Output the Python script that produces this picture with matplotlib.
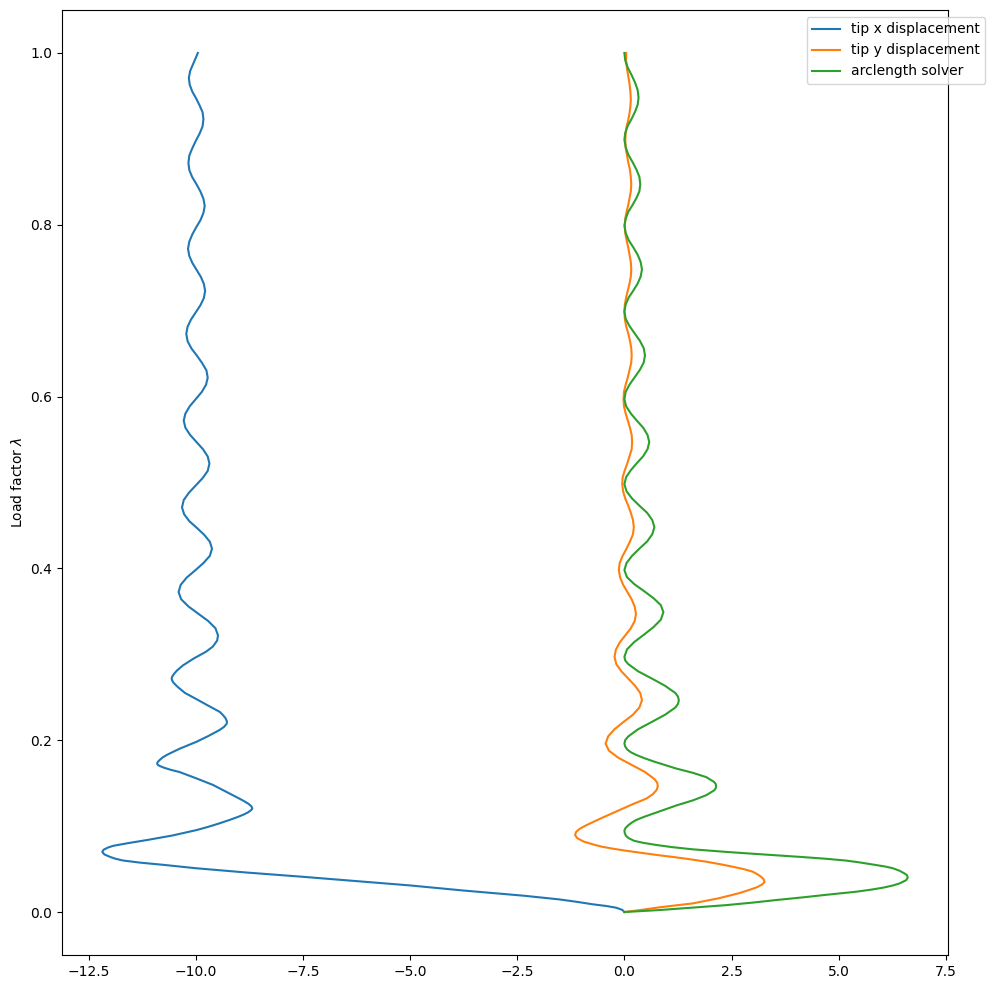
import matplotlib
matplotlib.use("Agg")
import matplotlib.pyplot as plt

# points: (load factor, displacement)
tip_x_pts = [
    (0.000, 0.00), (0.0025, -0.05), (0.005, -0.19), (0.007, -0.42), (0.009, -0.74),
    (0.0118, -1.10), (0.0147, -1.52), (0.019, -2.35), (0.025, -3.75), (0.031, -5.01),
    (0.036, -6.25), (0.041, -7.50), (0.046, -8.82), (0.051, -10.00), (0.055, -10.77),
    (0.0575, -11.30), (0.060, -11.70), (0.062, -11.87), (0.064, -11.99), (0.067, -12.13),
    (0.070, -12.18), (0.0725, -12.15), (0.075, -12.05), (0.077, -11.93), (0.080, -11.60),
    (0.0837, -11.15), (0.089, -10.55), (0.0953, -9.99), (0.099, -9.72), (0.103, -9.46),
    (0.107, -9.22), (0.111, -9.00), (0.1135, -8.88), (0.116, -8.78), (0.1185, -8.71),
    (0.1205, -8.68), (0.123, -8.70), (0.126, -8.77), (0.129, -8.87), (0.132, -8.98),
    (0.140, -9.29), (0.148, -9.60), (0.1555, -9.98), (0.163, -10.38), (0.1655, -10.58),
    (0.168, -10.74), (0.170, -10.84), (0.1715, -10.89), (0.173, -10.90), (0.175, -10.88),
    (0.177, -10.84), (0.180, -10.77), (0.183, -10.67), (0.190, -10.38), (0.198, -9.99),
    (0.205, -9.70), (0.212, -9.44), (0.2155, -9.34), (0.219, -9.28), (0.221, -9.27),
    (0.223, -9.28), (0.226, -9.31), (0.229, -9.36), (0.233, -9.44), (0.240, -9.70),
    (0.248, -9.99), (0.255, -10.25), (0.262, -10.42), (0.267, -10.52), (0.270, -10.555),
    (0.272, -10.56), (0.274, -10.55), (0.277, -10.51), (0.281, -10.44), (0.287, -10.30),
    (0.295, -10.05), (0.303, -9.76), (0.309, -9.60), (0.316, -9.50), (0.322, -9.48),
    (0.3304, -9.54), (0.3388, -9.71), (0.3473, -9.94), (0.3557, -10.17), (0.3641, -10.34),
    (0.3725, -10.40), (0.3809, -10.35), (0.3893, -10.21), (0.3978, -10.01), (0.4062, -9.82),
    (0.4146, -9.67), (0.423, -9.62), (0.431, -9.67), (0.439, -9.80), (0.447, -9.97),
    (0.455, -10.15), (0.463, -10.27), (0.471, -10.32), (0.4795, -10.28), (0.488, -10.16),
    (0.4965, -10.00), (0.505, -9.84), (0.5135, -9.72), (0.522, -9.68), (0.5303, -9.72),
    (0.5387, -9.83), (0.547, -9.98), (0.5553, -10.13), (0.5637, -10.24), (0.572, -10.28),
    (0.5803, -10.24), (0.5887, -10.14), (0.597, -10.00), (0.6053, -9.86), (0.6137, -9.76),
    (0.622, -9.72), (0.6305, -9.75), (0.639, -9.85), (0.6475, -9.97), (0.656, -10.10),
    (0.6645, -10.19), (0.673, -10.22), (0.6813, -10.19), (0.6897, -10.11), (0.698, -10.00),
    (0.7063, -9.89), (0.7147, -9.81), (0.723, -9.78), (0.7312, -9.81), (0.7393, -9.88),
    (0.7475, -9.98), (0.7557, -10.08), (0.7638, -10.15), (0.772, -10.18), (0.7803, -10.15),
    (0.7887, -10.08), (0.797, -9.99), (0.8053, -9.89), (0.8137, -9.82), (0.822, -9.79),
    (0.8303, -9.82), (0.8387, -9.89), (0.847, -9.98), (0.8553, -10.08), (0.8637, -10.15),
    (0.872, -10.17), (0.8805, -10.15), (0.889, -10.08), (0.8975, -10.00), (0.906, -9.91),
    (0.9145, -9.84), (0.923, -9.82), (0.931, -9.84), (0.939, -9.91), (0.947, -9.99),
    (0.955, -10.08), (0.963, -10.14), (0.971, -10.16), (0.979, -10.13), (0.986, -10.07),
    (0.993, -10.01), (1.000, -9.95),
]

tip_y_pts = [
    (0.000, 0.00), (0.0025, 0.40), (0.0055, 0.82), (0.010, 1.59), (0.016, 2.20),
    (0.022, 2.68), (0.026, 2.93), (0.029, 3.10), (0.032, 3.21), (0.035, 3.27),
    (0.038, 3.25), (0.041, 3.19), (0.044, 3.10), (0.047, 2.99), (0.050, 2.78),
    (0.0527, 2.53), (0.0555, 2.25), (0.0585, 1.92), (0.0615, 1.52), (0.064, 1.15),
    (0.066, 0.82), (0.068, 0.52), (0.070, 0.23), (0.072, -0.05), (0.074, -0.30),
    (0.076, -0.52), (0.078, -0.68), (0.082, -0.95), (0.086, -1.10), (0.0895, -1.15),
    (0.093, -1.13), (0.097, -1.04), (0.101, -0.89), (0.109, -0.55), (0.117, -0.19),
    (0.125, 0.17), (0.132, 0.51), (0.137, 0.66), (0.142, 0.75), (0.1465, 0.78),
    (0.1505, 0.765), (0.1548, 0.70), (0.163, 0.48), (0.1713, 0.17), (0.1795, -0.14),
    (0.1878, -0.36), (0.196, -0.44), (0.2044, -0.38), (0.2128, -0.23), (0.2213, -0.02),
    (0.2297, 0.20), (0.2381, 0.35), (0.2465, 0.41), (0.2549, 0.37), (0.2633, 0.25),
    (0.2718, 0.09), (0.2802, -0.07), (0.2886, -0.19), (0.297, -0.23), (0.3053, -0.20),
    (0.3137, -0.11), (0.322, 0.02), (0.3303, 0.15), (0.3387, 0.24), (0.347, 0.27),
    (0.3555, 0.24), (0.364, 0.17), (0.3725, 0.07), (0.381, -0.03), (0.3895, -0.10),
    (0.398, -0.13), (0.4063, -0.11), (0.4147, -0.04), (0.423, 0.05), (0.4313, 0.13),
    (0.4397, 0.20), (0.448, 0.22), (0.4563, 0.20), (0.4647, 0.15), (0.473, 0.09),
    (0.4813, 0.02), (0.4897, -0.03), (0.498, -0.05), (0.5062, -0.04), (0.5143, 0.01),
    (0.5225, 0.07), (0.5307, 0.12), (0.5388, 0.17), (0.547, 0.18), (0.5553, 0.17),
    (0.5637, 0.13), (0.572, 0.08), (0.5803, 0.03), (0.5887, -0.01), (0.597, -0.02),
    (0.6055, -0.01), (0.614, 0.03), (0.6225, 0.08), (0.631, 0.12), (0.6395, 0.16),
    (0.648, 0.17), (0.6565, 0.16), (0.665, 0.13), (0.6735, 0.09), (0.682, 0.04),
    (0.6905, 0.01), (0.699, 0.00), (0.7072, 0.01), (0.7153, 0.04), (0.7235, 0.08),
    (0.7317, 0.12), (0.7398, 0.15), (0.748, 0.16), (0.7565, 0.15), (0.765, 0.12),
    (0.7735, 0.09), (0.782, 0.05), (0.7905, 0.02), (0.799, 0.01), (0.807, 0.02),
    (0.815, 0.05), (0.823, 0.09), (0.831, 0.12), (0.839, 0.15), (0.847, 0.16),
    (0.8555, 0.15), (0.864, 0.13), (0.8725, 0.09), (0.881, 0.06), (0.8895, 0.03),
    (0.898, 0.02), (0.906, 0.03), (0.914, 0.05), (0.922, 0.09), (0.930, 0.12),
    (0.938, 0.14), (0.946, 0.15), (0.955, 0.14), (0.964, 0.12), (0.973, 0.09),
    (0.982, 0.06), (0.991, 0.04), (1.000, 0.04),
]

arclength_pts = [
    (0.000, 0.00), (0.0023, 0.82), (0.005, 1.55), (0.008, 2.37), (0.011, 3.00),
    (0.014, 3.55), (0.017, 4.15), (0.020, 4.70), (0.0236, 5.40), (0.026, 5.75),
    (0.0285, 6.05), (0.031, 6.27), (0.0333, 6.42), (0.037, 6.57), (0.040, 6.61),
    (0.043, 6.59), (0.045, 6.53), (0.048, 6.42), (0.051, 6.26), (0.053, 6.08),
    (0.0547, 5.87), (0.0578, 5.48), (0.060, 5.15), (0.062, 4.70), (0.064, 4.15),
    (0.066, 3.54), (0.068, 2.95), (0.070, 2.37), (0.073, 1.59), (0.0755, 1.12),
    (0.078, 0.75), (0.0806, 0.43), (0.083, 0.22), (0.086, 0.10), (0.0885, 0.04),
    (0.0915, 0.01), (0.095, 0.00), (0.098, 0.03), (0.101, 0.09), (0.104, 0.17),
    (0.107, 0.27), (0.111, 0.47), (0.115, 0.70), (0.124, 1.21), (0.130, 1.60),
    (0.136, 1.91), (0.139, 2.01), (0.1415, 2.09), (0.144, 2.13), (0.1465, 2.14),
    (0.149, 2.13), (0.1515, 2.09), (0.154, 2.01), (0.157, 1.91), (0.162, 1.60),
    (0.167, 1.21), (0.175, 0.70), (0.179, 0.47), (0.183, 0.27), (0.186, 0.15),
    (0.189, 0.07), (0.1925, 0.02), (0.196, 0.00), (0.2002, 0.02), (0.2044, 0.09),
    (0.2128, 0.32), (0.2213, 0.64), (0.2297, 0.95), (0.2381, 1.19), (0.2423, 1.25),
    (0.2465, 1.27), (0.2507, 1.25), (0.2549, 1.19), (0.2633, 0.95), (0.2718, 0.64),
    (0.2802, 0.32), (0.2886, 0.09), (0.2928, 0.02), (0.297, 0.00), (0.3057, 0.06),
    (0.3143, 0.23), (0.323, 0.46), (0.3317, 0.68), (0.3403, 0.85), (0.349, 0.91),
    (0.3572, 0.85), (0.3653, 0.68), (0.3735, 0.46), (0.3817, 0.23), (0.3898, 0.06),
    (0.398, 0.00), (0.4063, 0.05), (0.4147, 0.18), (0.423, 0.35), (0.4313, 0.53),
    (0.4397, 0.65), (0.448, 0.70), (0.4563, 0.65), (0.4647, 0.53), (0.473, 0.35),
    (0.4813, 0.18), (0.4897, 0.05), (0.498, 0.00), (0.5062, 0.04), (0.5143, 0.15),
    (0.5225, 0.29), (0.5307, 0.44), (0.5388, 0.54), (0.547, 0.58), (0.5553, 0.54),
    (0.5637, 0.44), (0.572, 0.29), (0.5803, 0.15), (0.5887, 0.04), (0.597, 0.00),
    (0.6055, 0.03), (0.614, 0.12), (0.6225, 0.24), (0.631, 0.36), (0.6395, 0.45),
    (0.648, 0.48), (0.6565, 0.45), (0.665, 0.36), (0.6735, 0.24), (0.682, 0.12),
    (0.6905, 0.03), (0.699, 0.00), (0.7072, 0.03), (0.7153, 0.10), (0.7235, 0.21),
    (0.7317, 0.31), (0.7398, 0.38), (0.748, 0.41), (0.7565, 0.38), (0.765, 0.31),
    (0.7735, 0.21), (0.782, 0.10), (0.7905, 0.03), (0.799, 0.00), (0.807, 0.03),
    (0.815, 0.09), (0.823, 0.19), (0.831, 0.28), (0.839, 0.35), (0.847, 0.37),
    (0.8557, 0.35), (0.8643, 0.28), (0.873, 0.19), (0.8817, 0.09), (0.8903, 0.03),
    (0.899, 0.00), (0.9072, 0.02), (0.9153, 0.08), (0.9235, 0.17), (0.9317, 0.25),
    (0.9398, 0.31), (0.948, 0.33), (0.9567, 0.31), (0.9653, 0.25), (0.974, 0.17),
    (0.9827, 0.08), (0.9913, 0.02), (1.000, 0.00),
]

tip_x_lam, tip_x_disp = zip(*tip_x_pts)
tip_y_lam, tip_y_disp = zip(*tip_y_pts)
arc_lam, arc_disp = zip(*arclength_pts)

fig = plt.figure(figsize=(9.95, 9.89), dpi=100)
ax = fig.add_axes([0.0623, 0.0344, 0.8905, 0.9555])

ax.plot(tip_x_disp, tip_x_lam, label="tip x displacement")
ax.plot(tip_y_disp, tip_y_lam, label="tip y displacement")
ax.plot(arc_disp, arc_lam, label="arclength solver")

ax.set_ylabel(r"Load factor $\lambda$")
ax.legend(loc="upper right", bbox_to_anchor=(1.05, 1.0))

fig.savefig("out.png", dpi=100)
